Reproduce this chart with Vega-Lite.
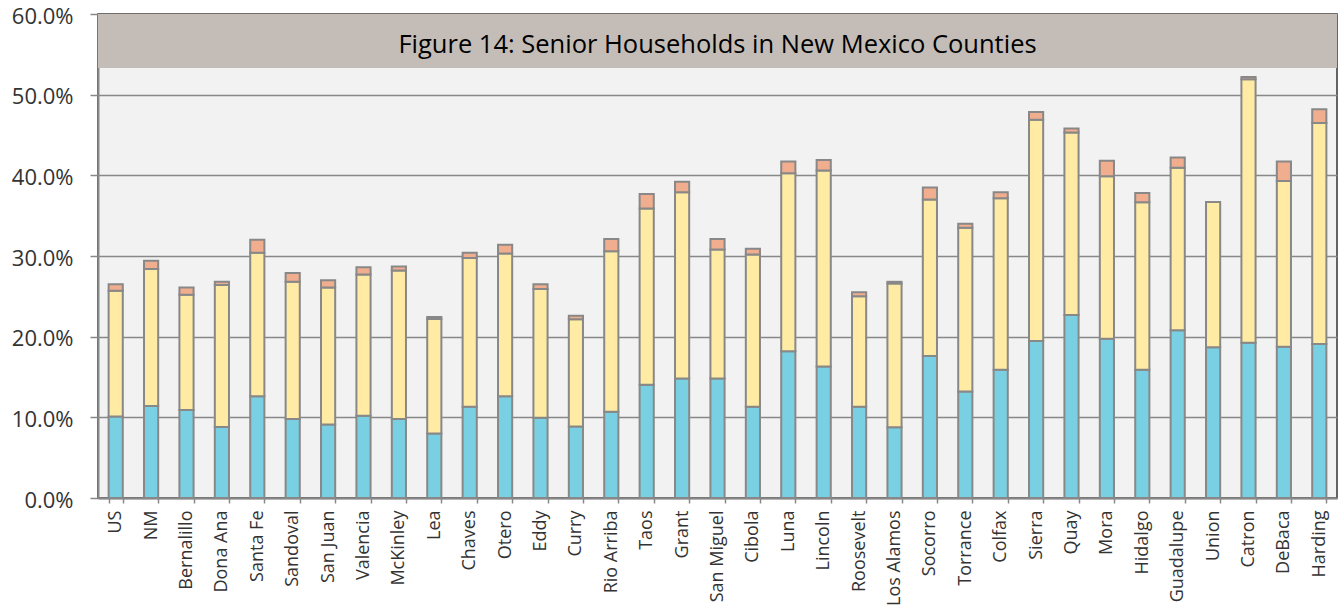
{
  "$schema": "https://vega.github.io/schema/vega-lite/v6.json",
  "width": 1239,
  "height": 484,
  "autosize": {"type": "none"},
  "padding": {"left": 98, "top": 14, "right": 4, "bottom": 111},
  "background": "white",
  "config": {
    "view": {"fill": "#F2F2F2", "stroke": "#333333", "strokeWidth": 1.5},
    "font": "Open Sans"
  },
  "datasets": {
    "households": [
      {"county": "US", "series": "Series 1", "value": 0.101},
      {"county": "US", "series": "Series 2", "value": 0.156},
      {"county": "US", "series": "Series 3", "value": 0.008},
      {"county": "NM", "series": "Series 1", "value": 0.114},
      {"county": "NM", "series": "Series 2", "value": 0.170},
      {"county": "NM", "series": "Series 3", "value": 0.010},
      {"county": "Bernalillo", "series": "Series 1", "value": 0.109},
      {"county": "Bernalillo", "series": "Series 2", "value": 0.143},
      {"county": "Bernalillo", "series": "Series 3", "value": 0.009},
      {"county": "Dona Ana", "series": "Series 1", "value": 0.088},
      {"county": "Dona Ana", "series": "Series 2", "value": 0.176},
      {"county": "Dona Ana", "series": "Series 3", "value": 0.004},
      {"county": "Santa Fe", "series": "Series 1", "value": 0.126},
      {"county": "Santa Fe", "series": "Series 2", "value": 0.178},
      {"county": "Santa Fe", "series": "Series 3", "value": 0.016},
      {"county": "Sandoval", "series": "Series 1", "value": 0.098},
      {"county": "Sandoval", "series": "Series 2", "value": 0.170},
      {"county": "Sandoval", "series": "Series 3", "value": 0.011},
      {"county": "San Juan", "series": "Series 1", "value": 0.091},
      {"county": "San Juan", "series": "Series 2", "value": 0.170},
      {"county": "San Juan", "series": "Series 3", "value": 0.009},
      {"county": "Valencia", "series": "Series 1", "value": 0.102},
      {"county": "Valencia", "series": "Series 2", "value": 0.175},
      {"county": "Valencia", "series": "Series 3", "value": 0.009},
      {"county": "McKinley", "series": "Series 1", "value": 0.098},
      {"county": "McKinley", "series": "Series 2", "value": 0.184},
      {"county": "McKinley", "series": "Series 3", "value": 0.005},
      {"county": "Lea", "series": "Series 1", "value": 0.080},
      {"county": "Lea", "series": "Series 2", "value": 0.142},
      {"county": "Lea", "series": "Series 3", "value": 0.0025},
      {"county": "Chaves", "series": "Series 1", "value": 0.113},
      {"county": "Chaves", "series": "Series 2", "value": 0.1845},
      {"county": "Chaves", "series": "Series 3", "value": 0.0065},
      {"county": "Otero", "series": "Series 1", "value": 0.126},
      {"county": "Otero", "series": "Series 2", "value": 0.177},
      {"county": "Otero", "series": "Series 3", "value": 0.011},
      {"county": "Eddy", "series": "Series 1", "value": 0.0995},
      {"county": "Eddy", "series": "Series 2", "value": 0.1595},
      {"county": "Eddy", "series": "Series 3", "value": 0.006},
      {"county": "Curry", "series": "Series 1", "value": 0.0885},
      {"county": "Curry", "series": "Series 2", "value": 0.133},
      {"county": "Curry", "series": "Series 3", "value": 0.0045},
      {"county": "Rio Arriba", "series": "Series 1", "value": 0.107},
      {"county": "Rio Arriba", "series": "Series 2", "value": 0.199},
      {"county": "Rio Arriba", "series": "Series 3", "value": 0.015},
      {"county": "Taos", "series": "Series 1", "value": 0.1405},
      {"county": "Taos", "series": "Series 2", "value": 0.2185},
      {"county": "Taos", "series": "Series 3", "value": 0.018},
      {"county": "Grant", "series": "Series 1", "value": 0.148},
      {"county": "Grant", "series": "Series 2", "value": 0.231},
      {"county": "Grant", "series": "Series 3", "value": 0.013},
      {"county": "San Miguel", "series": "Series 1", "value": 0.148},
      {"county": "San Miguel", "series": "Series 2", "value": 0.160},
      {"county": "San Miguel", "series": "Series 3", "value": 0.013},
      {"county": "Cibola", "series": "Series 1", "value": 0.113},
      {"county": "Cibola", "series": "Series 2", "value": 0.189},
      {"county": "Cibola", "series": "Series 3", "value": 0.007},
      {"county": "Luna", "series": "Series 1", "value": 0.182},
      {"county": "Luna", "series": "Series 2", "value": 0.2205},
      {"county": "Luna", "series": "Series 3", "value": 0.0145},
      {"county": "Lincoln", "series": "Series 1", "value": 0.163},
      {"county": "Lincoln", "series": "Series 2", "value": 0.243},
      {"county": "Lincoln", "series": "Series 3", "value": 0.013},
      {"county": "Roosevelt", "series": "Series 1", "value": 0.113},
      {"county": "Roosevelt", "series": "Series 2", "value": 0.137},
      {"county": "Roosevelt", "series": "Series 3", "value": 0.005},
      {"county": "Los Alamos", "series": "Series 1", "value": 0.0876},
      {"county": "Los Alamos", "series": "Series 2", "value": 0.1784},
      {"county": "Los Alamos", "series": "Series 3", "value": 0.002},
      {"county": "Socorro", "series": "Series 1", "value": 0.176},
      {"county": "Socorro", "series": "Series 2", "value": 0.194},
      {"county": "Socorro", "series": "Series 3", "value": 0.015},
      {"county": "Torrance", "series": "Series 1", "value": 0.132},
      {"county": "Torrance", "series": "Series 2", "value": 0.203},
      {"county": "Torrance", "series": "Series 3", "value": 0.005},
      {"county": "Colfax", "series": "Series 1", "value": 0.159},
      {"county": "Colfax", "series": "Series 2", "value": 0.2125},
      {"county": "Colfax", "series": "Series 3", "value": 0.0075},
      {"county": "Sierra", "series": "Series 1", "value": 0.1945},
      {"county": "Sierra", "series": "Series 2", "value": 0.2745},
      {"county": "Sierra", "series": "Series 3", "value": 0.0095},
      {"county": "Quay", "series": "Series 1", "value": 0.227},
      {"county": "Quay", "series": "Series 2", "value": 0.226},
      {"county": "Quay", "series": "Series 3", "value": 0.005},
      {"county": "Mora", "series": "Series 1", "value": 0.1975},
      {"county": "Mora", "series": "Series 2", "value": 0.2015},
      {"county": "Mora", "series": "Series 3", "value": 0.019},
      {"county": "Hidalgo", "series": "Series 1", "value": 0.159},
      {"county": "Hidalgo", "series": "Series 2", "value": 0.2075},
      {"county": "Hidalgo", "series": "Series 3", "value": 0.0115},
      {"county": "Guadalupe", "series": "Series 1", "value": 0.208},
      {"county": "Guadalupe", "series": "Series 2", "value": 0.2015},
      {"county": "Guadalupe", "series": "Series 3", "value": 0.0125},
      {"county": "Union", "series": "Series 1", "value": 0.187},
      {"county": "Union", "series": "Series 2", "value": 0.180},
      {"county": "Union", "series": "Series 3", "value": 0.0},
      {"county": "Catron", "series": "Series 1", "value": 0.1925},
      {"county": "Catron", "series": "Series 2", "value": 0.3265},
      {"county": "Catron", "series": "Series 3", "value": 0.003},
      {"county": "DeBaca", "series": "Series 1", "value": 0.1875},
      {"county": "DeBaca", "series": "Series 2", "value": 0.2055},
      {"county": "DeBaca", "series": "Series 3", "value": 0.024},
      {"county": "Harding", "series": "Series 1", "value": 0.191},
      {"county": "Harding", "series": "Series 2", "value": 0.274},
      {"county": "Harding", "series": "Series 3", "value": 0.017}
    ]
  },
  "layer": [
    {
      "data": {"name": "households"},
      "mark": {"type": "bar", "stroke": "#888888", "strokeWidth": 2},
      "encoding": {
        "x": {
          "field": "county",
          "type": "nominal",
          "sort": null,
          "scale": {"paddingInner": 0.6, "paddingOuter": 0.3},
          "axis": {
            "title": null,
            "labelAngle": -90,
            "labelAlign": "right",
            "labelBaseline": "middle",
            "labelFontSize": 18,
            "labelColor": "#333333",
            "labelPadding": 7,
            "tickBand": "extent",
            "ticks": true,
            "tickSize": 5,
            "tickColor": "#888888",
            "tickWidth": 1.5,
            "domainColor": "#888888",
            "domainWidth": 2,
            "grid": false
          }
        },
        "y": {
          "field": "value",
          "type": "quantitative",
          "stack": "zero",
          "scale": {"domain": [0, 0.6], "nice": false},
          "axis": {
            "title": null,
            "format": ".1%",
            "values": [0, 0.1, 0.2, 0.3, 0.4, 0.5, 0.6],
            "grid": true,
            "gridColor": "#888888",
            "gridWidth": 1.5,
            "tickColor": "#888888",
            "tickSize": 8,
            "tickWidth": 1.5,
            "domainColor": "#888888",
            "domainWidth": 2,
            "labelFontSize": 22,
            "labelColor": "#333333",
            "labelPadding": 17,
            "labelOffset": 2
          }
        },
        "color": {
          "field": "series",
          "type": "nominal",
          "scale": {"domain": ["Series 1", "Series 2", "Series 3"], "range": ["#78D0E2", "#FFEBA3", "#F0AE8E"]},
          "legend": null
        },
        "order": {"field": "series", "sort": "ascending"}
      }
    },
    {
      "data": {"values": [{"t": "Figure 14: Senior Households in New Mexico Counties"}]},
      "mark": {"type": "rect", "fill": "#C4BDB7"},
      "encoding": {
        "x": {"value": 0},
        "x2": {"value": "width"},
        "y": {"datum": 0.533},
        "y2": {"datum": 0.6}
      }
    },
    {
      "data": {"values": [{"t": "Figure 14: Senior Households in New Mexico Counties"}]},
      "mark": {"type": "text", "fontSize": 25.5, "color": "#000000", "baseline": "middle", "align": "center", "font": "Open Sans"},
      "encoding": {
        "text": {"field": "t"},
        "y": {"datum": 0.562}
      }
    }
  ]
}
